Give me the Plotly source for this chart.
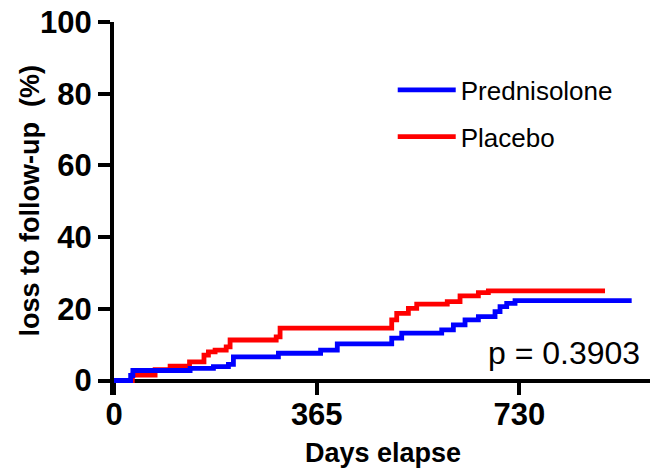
import plotly.graph_objects as go

# Kaplan-Meier style cumulative loss to follow-up (%), step changes (day, value)
pred_days = [0, 30, 34, 137, 179, 206, 215, 296, 372, 402, 500, 518, 590, 611, 632, 656, 686, 695, 707, 722, 932]
pred_vals = [0, 1.4, 2.8, 3.4, 3.9, 4.5, 6.6, 7.6, 8.5, 10.2, 11.8, 13.2, 14.1, 15.5, 16.9, 17.8, 19.2, 20.6, 21.5, 22.3, 22.3]

plac_days = [0, 33, 74, 101, 136, 162, 170, 182, 202, 209, 292, 299, 500, 509, 530, 545, 600, 623, 656, 674, 884]
plac_vals = [0, 1.5, 3.0, 4.0, 5.2, 7.1, 8.0, 8.5, 9.4, 11.3, 12.2, 14.6, 16.9, 18.7, 20.1, 21.3, 22.0, 23.6, 24.5, 25.0, 25.0]

x_ticks = [0, 365, 730]
y_ticks = [0, 20, 40, 60, 80, 100]

FONT = "Liberation Sans, Arial, sans-serif"

fig = go.Figure()
fig.add_trace(go.Scatter(x=plac_days, y=plac_vals, mode="lines", line_shape="hv",
                         line=dict(color="#ff0000", width=4.8), name="Placebo",
                         legendgroup="b", legendrank=2))
fig.add_trace(go.Scatter(x=pred_days, y=pred_vals, mode="lines", line_shape="hv",
                         line=dict(color="#0000ff", width=4.8), name="Prednisolone",
                         legendgroup="a", legendrank=1))

H_plot = 474 - 22 - 79
pos0 = (395 - 380.5) / H_plot

fig.update_layout(
    width=650, height=474,
    margin=dict(l=114, r=0, t=22, b=79),
    paper_bgcolor="white", plot_bgcolor="white",
    font=dict(family=FONT, color="black"),
    showlegend=True,
    legend=dict(x=0.52, y=0.881, xanchor="left", yanchor="top",
                font=dict(size=26, family=FONT), tracegroupgap=10,
                itemwidth=58,
                bgcolor="rgba(0,0,0,0)"),
    xaxis=dict(range=[0, 965], tickvals=x_ticks, ticktext=[str(v) for v in x_ticks],
               showline=True, linewidth=4, linecolor="black",
               ticks="outside", ticklen=12, tickwidth=4, tickcolor="black",
               showgrid=False, zeroline=False, anchor="free", position=pos0,
               layer="below traces", ticklabelstandoff=-7,
               tickfont=dict(size=31, family=FONT, weight="bold")),
    yaxis=dict(range=[-4.04, 100], tickvals=y_ticks,
               showline=True, linewidth=4, linecolor="black",
               ticks="outside", ticklen=12, tickwidth=4, tickcolor="black",
               showgrid=False, zeroline=False, layer="below traces",
               tickfont=dict(size=31, family=FONT, weight="bold")),
    annotations=[
        dict(text="loss to follow-up  (%)", xref="paper", yref="paper",
             x=0, y=0.519, xshift=-84, textangle=-90, showarrow=False,
             xanchor="center", yanchor="middle",
             font=dict(size=27, family=FONT, weight="bold")),
        dict(text="Days elapse", xref="paper", yref="paper",
             x=0.501, y=0, yshift=-58, showarrow=False,
             xanchor="center", yanchor="middle",
             font=dict(size=27, family=FONT, weight="bold")),
        dict(text="p = 0.3903", xref="paper", yref="y",
             x=0.985, y=7.8, showarrow=False,
             xanchor="right", yanchor="middle",
             font=dict(size=32, family=FONT)),
    ],
)

fig.write_html("out.html", config={"displayModeBar": False},
               post_script="document.body.style.margin='0px';document.body.style.padding='0px';")
